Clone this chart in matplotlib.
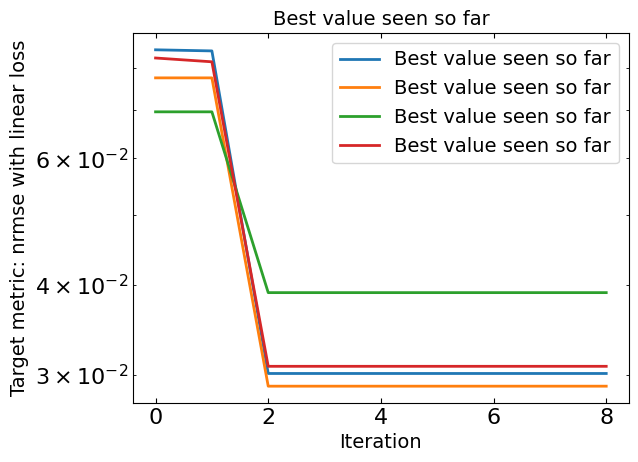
import matplotlib
matplotlib.use("Agg")
import matplotlib.pyplot as plt

iterations = [0, 1, 2, 3, 4, 5, 6, 7, 8]
series_blue = [0.0849, 0.0846, 0.0301, 0.0301, 0.0301, 0.0301, 0.0301, 0.0301, 0.0301]
series_orange = [0.0776, 0.0776, 0.0289, 0.0289, 0.0289, 0.0289, 0.0289, 0.0289, 0.0289]
series_green = [0.0696, 0.0696, 0.0390, 0.0390, 0.0390, 0.0390, 0.0390, 0.0390, 0.0390]
series_red = [0.0827, 0.0817, 0.0308, 0.0308, 0.0308, 0.0308, 0.0308, 0.0308, 0.0308]
label = "Best value seen so far"

fig = plt.figure(figsize=(6.38, 4.62), dpi=100)
ax = fig.add_axes([0.2085, 0.1277, 0.777, 0.8009])
for ys, c in [(series_blue, "C0"), (series_orange, "C1"), (series_green, "C2"), (series_red, "C3")]:
    ax.plot(iterations, ys, color=c, lw=2, label=label)
ax.set_yscale("log")
ax.set_xticks([0, 2, 4, 6, 8])
ax.tick_params(which="both", direction="in", top=True, right=True, labelsize=16)
ax.set_xlabel("Iteration", fontsize=14)
ax.set_ylabel("Target metric: nrmse with linear loss", fontsize=14)
ax.set_title(label, fontsize=14)
ax.legend(fontsize=14, loc="upper right")
fig.savefig("out.png", dpi=100)
